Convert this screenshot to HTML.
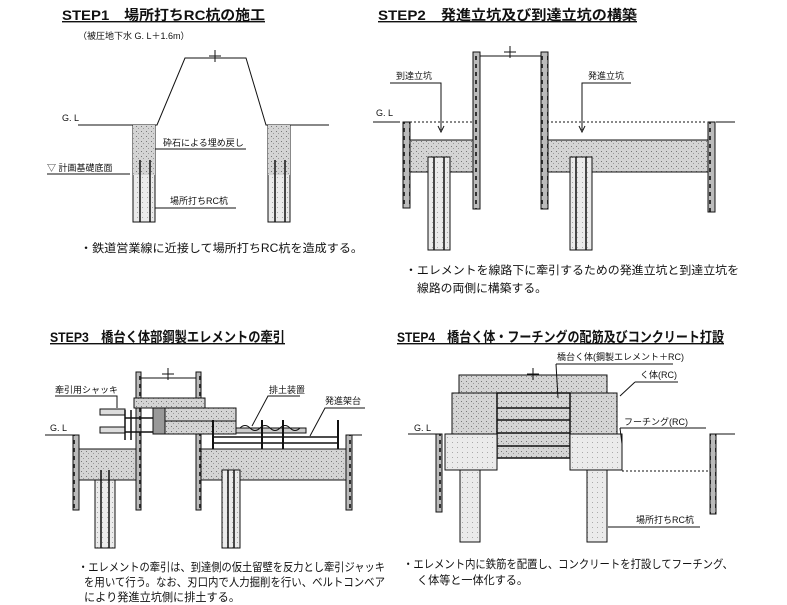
<!DOCTYPE html>
<html><head><meta charset="utf-8"><style>
html,body{margin:0;padding:0;background:#fff;}
svg{display:block;}
text{font-family:"Liberation Sans","Noto Sans CJK JP",sans-serif;fill:#111;}
.t{font-size:14px;font-weight:bold;text-decoration:underline;}
.s{font-size:9px;}
.b{font-size:11.5px;}
</style></head><body>
<svg width="787" height="605" viewBox="0 0 787 605" xmlns="http://www.w3.org/2000/svg">
<defs>
<pattern id="c" width="5" height="5" patternUnits="userSpaceOnUse">
<rect width="5" height="5" fill="#d4d4d4"/>
<rect x="1" y="1" width="1" height="1" fill="#777"/>
<rect x="3" y="3" width="1" height="1" fill="#999"/>
</pattern>
<pattern id="l" width="5" height="5" patternUnits="userSpaceOnUse">
<rect width="5" height="5" fill="#ebebeb"/>
<rect x="2" y="2" width="1" height="1" fill="#aaa"/>
</pattern>
<pattern id="w" width="6" height="8" patternUnits="userSpaceOnUse">
<rect width="6" height="8" fill="#bbb"/>
<rect x="1" y="0" width="2" height="4" fill="#333"/>
</pattern>
</defs>
<g stroke="#111" fill="none" stroke-width="1">

<!-- STEP1 -->
<text class="t" x="62" y="20" stroke="none" textLength="203" lengthAdjust="spacingAndGlyphs">STEP1　場所打ちRC杭の施工</text>
<text class="s" x="78" y="39" stroke="none">（被圧地下水 G. L＋1.6m）</text>
<text class="s" x="62" y="121" stroke="none">G. L</text>
<polyline points="78,125 157,125 185,58 246,58 266,125 329,125"/>
<path d="M215,50V62M209,56H221"/>
<rect x="133" y="125" width="22" height="97" fill="url(#l)"/>
<rect x="133" y="125" width="22" height="50" fill="url(#c)" stroke="none"/>
<path d="M140,160V222M150,160V222" stroke-width="1.5"/>
<rect x="268" y="125" width="22" height="97" fill="url(#l)"/>
<rect x="268" y="125" width="22" height="50" fill="url(#c)" stroke="none"/>
<path d="M275,160V222M285,160V222" stroke-width="1.5"/>
<text class="s" x="163" y="146" stroke="none">砕石による埋め戻し</text>
<path d="M155,149H246"/>
<text class="s" x="47" y="171" stroke="none">▽ 計画基礎底面</text>
<path d="M47,174H130"/>
<text class="s" x="170" y="204" stroke="none">場所打ちRC杭</text>
<path d="M155,208H236"/>
<text class="b" x="80" y="252" stroke="none" textLength="283" lengthAdjust="spacingAndGlyphs">・鉄道営業線に近接して場所打ちRC杭を造成する。</text>

<!-- STEP2 -->
<text class="t" x="378" y="20" stroke="none" textLength="259" lengthAdjust="spacingAndGlyphs">STEP2　発進立坑及び到達立坑の構築</text>
<text class="s" x="376" y="116" stroke="none">G. L</text>
<path d="M373,122H400M716,122H735"/>
<path d="M410,122H472M547,122H707" stroke-dasharray="2,2"/>
<rect x="403" y="122" width="7" height="86" fill="url(#w)"/>
<rect x="473" y="52" width="7" height="157" fill="url(#w)"/>
<rect x="541" y="52" width="7" height="157" fill="url(#w)"/>
<rect x="708" y="122" width="7" height="90" fill="url(#w)"/>
<path d="M480,56H541"/>
<path d="M510,46V58M504,52H516"/>
<rect x="410" y="140" width="63" height="32" fill="url(#c)"/>
<rect x="548" y="140" width="160" height="32" fill="url(#c)"/>
<rect x="428" y="157" width="22" height="93" fill="url(#l)"/>
<path d="M434,157V250M444,157V250" stroke-width="1.5"/>
<rect x="570" y="157" width="22" height="93" fill="url(#l)"/>
<path d="M576,157V250M586,157V250" stroke-width="1.5"/>
<text class="s" x="396" y="79" stroke="none">到達立坑</text>
<path d="M390,83H441V130"/><path d="M438,126L441,132L444,126"/>
<text class="s" x="588" y="79" stroke="none">発進立坑</text>
<path d="M631,83H582V130"/><path d="M579,126L582,132L585,126"/>
<text class="b" x="405" y="274" stroke="none" textLength="334" lengthAdjust="spacingAndGlyphs">・エレメントを線路下に牽引するための発進立坑と到達立坑を</text>
<text class="b" x="417" y="292" stroke="none" textLength="130" lengthAdjust="spacingAndGlyphs">線路の両側に構築する。</text>

<!-- STEP3 -->
<text class="t" x="50" y="342" stroke="none" textLength="235" lengthAdjust="spacingAndGlyphs">STEP3　橋台く体部鋼製エレメントの牽引</text>
<text class="s" x="50" y="431" stroke="none">G. L</text>
<path d="M45,435H73M352,435H362"/>
<rect x="73" y="435" width="6" height="75" fill="url(#w)"/>
<rect x="136" y="372" width="5" height="138" fill="url(#w)"/>
<rect x="196" y="372" width="5" height="138" fill="url(#w)"/>
<rect x="346" y="435" width="6" height="75" fill="url(#w)"/>
<path d="M141,378H196"/>
<path d="M168,368V380M162,374H174"/>
<rect x="79" y="449" width="57" height="31" fill="url(#c)"/>
<rect x="201" y="449" width="145" height="31" fill="url(#c)"/>
<rect x="95" y="480" width="20" height="68" fill="url(#l)"/>
<path d="M101,470V548M109,470V548" stroke-width="1.5"/>
<rect x="222" y="470" width="18" height="78" fill="url(#l)"/>
<path d="M228,470V548M234,470V548" stroke-width="1.5"/>
<rect x="134" y="398" width="71" height="10" fill="url(#c)"/>
<rect x="153" y="408" width="83" height="26" fill="url(#c)"/>
<rect x="153" y="408" width="12" height="26" fill="#999"/>
<path d="M165,421H236"/>
<rect x="100" y="409" width="25" height="6" fill="#ddd"/>
<rect x="100" y="427" width="25" height="6" fill="#ddd"/>
<path d="M125,410V440M131,410V440M125,418H153M125,432H153" stroke-width="1.5"/>
<rect x="236" y="428" width="70" height="5" fill="#ccc"/>
<path d="M240,428q5,-5 10,0t10,0t10,0t10,0t10,0t10,0"/>
<path d="M213,437H338M213,443H338" stroke-width="1.5"/>
<path d="M213,420V449M338,420V449M262,420V449M283,420V449" stroke-width="2"/>
<text class="s" x="55" y="393" stroke="none">牽引用シャッキ</text>
<path d="M55,396H117V408"/>
<text class="s" x="269" y="393" stroke="none">排土装置</text>
<path d="M300,396H268L252,426"/>
<text class="s" x="325" y="404" stroke="none">発進架台</text>
<path d="M365,408H325L310,436"/>
<text class="b" x="78" y="571" stroke="none" textLength="307" lengthAdjust="spacingAndGlyphs">・エレメントの牽引は、到達側の仮土留壁を反力とし牽引ジャッキ</text>
<text class="b" x="84" y="586" stroke="none" textLength="301" lengthAdjust="spacingAndGlyphs">を用いて行う。なお、刃口内で人力掘削を行い、ベルトコンベア</text>
<text class="b" x="84" y="601" stroke="none" textLength="156" lengthAdjust="spacingAndGlyphs">により発進立坑側に排土する。</text>

<!-- STEP4 -->
<text class="t" x="397" y="342" stroke="none" textLength="327" lengthAdjust="spacingAndGlyphs">STEP4　橋台く体・フーチングの配筋及びコンクリート打設</text>
<text class="s" x="414" y="431" stroke="none">G. L</text>
<path d="M408,434H440M712,434H735"/>
<rect x="436" y="434" width="6" height="78" fill="url(#w)"/>
<rect x="710" y="434" width="6" height="80" fill="url(#w)"/>
<rect x="459" y="375" width="148" height="18" fill="url(#c)"/>
<rect x="452" y="393" width="45" height="41" fill="url(#c)"/>
<rect x="570" y="393" width="47" height="41" fill="url(#c)"/>
<rect x="497" y="393" width="73" height="65" fill="url(#c)" stroke-width="1.5"/>
<path d="M497,408H570M497,420H570M497,433H570M497,446H570" stroke-width="1.5"/>
<rect x="445" y="434" width="52" height="36" fill="url(#l)"/>
<rect x="570" y="434" width="52" height="36" fill="url(#l)"/>
<path d="M622,471H710" stroke-dasharray="2,2"/>
<rect x="460" y="470" width="20" height="72" fill="url(#l)"/>
<rect x="587" y="470" width="20" height="72" fill="url(#l)"/>
<path d="M533,368V380M527,374H539"/>
<text class="s" x="557" y="360" stroke="none">橋台く体(鋼製エレメント＋RC)</text>
<path d="M556,364H673M556,364L558,398"/>
<text class="s" x="640" y="378" stroke="none">く体(RC)</text>
<path d="M635,382H678M635,382L620,396"/>
<text class="s" x="624" y="425" stroke="none">フーチング(RC)</text>
<path d="M620,428H706M620,428L622,444"/>
<text class="s" x="636" y="523" stroke="none">場所打ちRC杭</text>
<path d="M608,527H700"/>
<text class="b" x="403" y="568" stroke="none" textLength="330" lengthAdjust="spacingAndGlyphs">・エレメント内に鉄筋を配置し、コンクリートを打設してフーチング、</text>
<text class="b" x="417" y="584" stroke="none" textLength="111" lengthAdjust="spacingAndGlyphs">く体等と一体化する。</text>
</g>
</svg>
</body></html>
